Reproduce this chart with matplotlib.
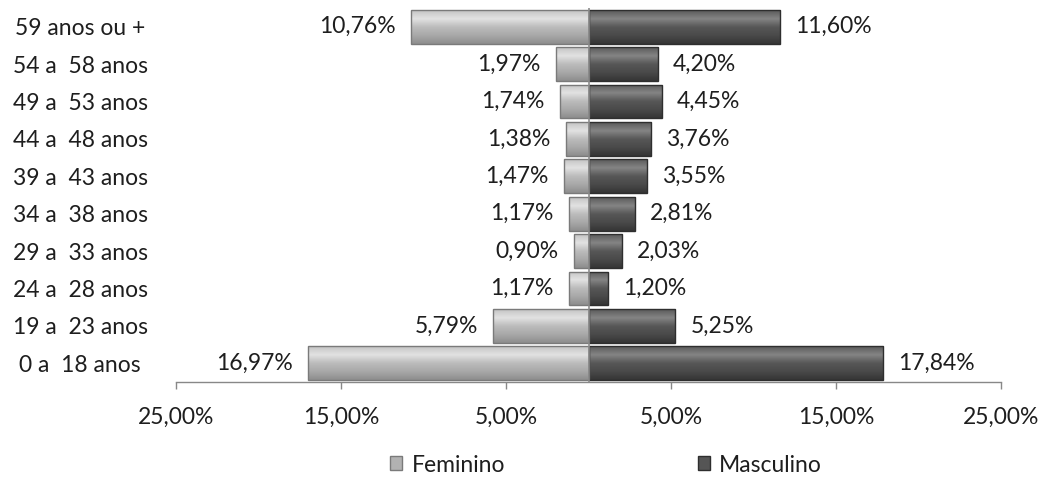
import matplotlib
matplotlib.use("Agg")
import matplotlib.pyplot as plt
from matplotlib.patches import Patch
from matplotlib.colors import LinearSegmentedColormap
import numpy as np

categories = ["0 a  18 anos", "19 a  23 anos", "24 a  28 anos", "29 a  33 anos",
              "34 a  38 anos", "39 a  43 anos", "44 a  48 anos", "49 a  53 anos",
              "54 a  58 anos", "59 anos ou +"]
feminino = [16.97, 5.79, 1.17, 0.90, 1.17, 1.47, 1.38, 1.74, 1.97, 10.76]
masculino = [17.84, 5.25, 1.20, 2.03, 2.81, 3.55, 3.76, 4.45, 4.20, 11.60]
xticks = [-25, -15, -5, 5, 15, 25]
xticklabels = ["25,00%", "15,00%", "5,00%", "5,00%", "15,00%", "25,00%"]

plt.rcParams['font.family'] = ['Lato', 'DejaVu Sans']
FS = 16.5
TXT = '#1e1e1e'

fig = plt.figure(figsize=(10.44, 4.79), dpi=100)
ax = fig.add_axes([176/1044, 97/479, 825/1044, 374/479])

y = np.arange(len(categories))
h = 0.9
f_vals = -np.array(feminino)
m_vals = np.array(masculino)

fbars = ax.barh(y, f_vals, height=h, color='#b2b2b2', edgecolor='#7a7a7a', linewidth=1.0, zorder=2)
mbars = ax.barh(y, m_vals, height=h, color='#555555', edgecolor='#2e2e2e', linewidth=1.0, zorder=2)

cmap_f = LinearSegmentedColormap.from_list('f', ['#8e8e8e', '#a8a8a8', '#bcbcbc', '#e2e2e2', '#c4c4c4'])
cmap_m = LinearSegmentedColormap.from_list('m', ['#353535', '#4a4a4a', '#575757', '#858585', '#5a5a5a'])
grad = np.linspace(0, 1, 64).reshape(-1, 1)
for bars, cmap in ((fbars, cmap_f), (mbars, cmap_m)):
    for p in bars:
        x0, y0 = p.get_x(), p.get_y()
        w, hh = p.get_width(), p.get_height()
        im = ax.imshow(grad, cmap=cmap, aspect='auto', origin='lower',
                       extent=(x0, x0 + w, y0, y0 + hh), zorder=2.5, interpolation='bilinear')
        im.set_clip_path(p)
    for p in bars:
        p.set_zorder(3)
        p.set_facecolor('none')

for yi, v in zip(y, feminino):
    ax.annotate(f"{v:.2f}%".replace('.', ','), xy=(-v, yi), xytext=(-11, 0),
                textcoords='offset points', ha='right', va='center',
                fontsize=FS, color=TXT)
for yi, v in zip(y, masculino):
    ax.annotate(f"{v:.2f}%".replace('.', ','), xy=(v, yi), xytext=(11, 0),
                textcoords='offset points', ha='left', va='center',
                fontsize=FS, color=TXT)

ax.axvline(0, color='#8c8c8c', linewidth=1.2, zorder=4)

ax.set_xlim(-25, 25)
ax.set_ylim(-0.5, len(categories) - 0.5)
ax.set_xticks(xticks)
ax.set_xticklabels(xticklabels, fontsize=FS, color=TXT)
ax.set_yticks(y)
ax.set_yticklabels(categories, fontsize=FS, color=TXT, ha='center')
ax.tick_params(axis='y', length=0, pad=69)
ax.tick_params(axis='x', length=5, width=1, color='#888888', pad=13, direction='out')

for s in ['top', 'right', 'left']:
    ax.spines[s].set_visible(False)
ax.spines['bottom'].set_color('#888888')
ax.spines['bottom'].set_linewidth(1)

handles = [Patch(facecolor='#b2b2b2', edgecolor='#7a7a7a', label='Feminino'),
           Patch(facecolor='#555555', edgecolor='#2e2e2e', label='Masculino')]
fig.legend(handles=handles, loc='center', bbox_to_anchor=(606/1044, 1 - 465/479),
           ncol=2, frameon=False, fontsize=FS, handlelength=0.55, handleheight=0.55,
           handletextpad=0.4, columnspacing=8.4, labelcolor=TXT)

fig.savefig('out.png', dpi=100)
